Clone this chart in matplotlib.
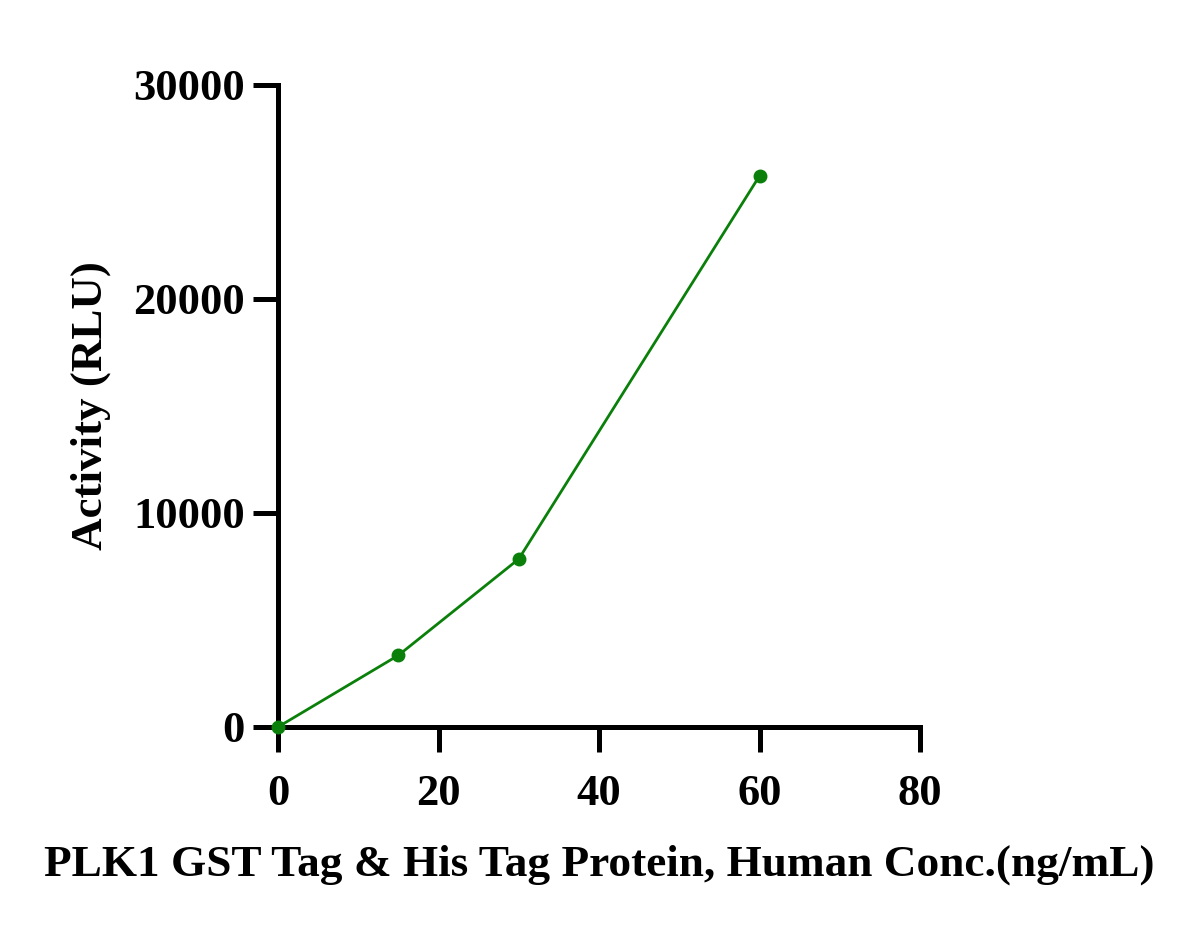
import matplotlib
matplotlib.use("Agg")
import matplotlib.pyplot as plt

conc = [0, 15, 30, 60]
activity = [0, 3350, 7850, 25750]
xticks = [0, 20, 40, 60, 80]
yticks = [0, 10000, 20000, 30000]

plt.rcParams['font.family'] = ['Liberation Serif', 'DejaVu Serif']
plt.rcParams['font.weight'] = 'bold'

fig = plt.figure(figsize=(12, 9.31), dpi=100)
ax = fig.add_axes([278/1200, 1-727/931, (920-278)/1200, (727-85)/931])
color = '#0a800a'
ax.plot(conc, activity, color=color, lw=2.0, marker='o', ms=9, clip_on=False, zorder=5)
ax.set_xlim(0, 80)
ax.set_ylim(0, 30000)
ax.set_xticks(xticks)
ax.set_yticks(yticks)
for s in ['top', 'right']:
    ax.spines[s].set_visible(False)
for s in ['left', 'bottom']:
    ax.spines[s].set_linewidth(3.6)
ax.tick_params(axis='both', width=3.6, length=18, labelsize=32)
ax.tick_params(axis='x', pad=16)
ax.tick_params(axis='y', pad=6)
for lab in ax.get_xticklabels() + ax.get_yticklabels():
    lab.set_fontweight('bold')
ax.set_xlabel('PLK1 GST Tag & His Tag Protein, Human Conc.(ng/mL)', fontsize=32.6, fontweight='bold', labelpad=22)
ax.set_ylabel('Activity (RLU)', fontsize=32.4, fontweight='bold', labelpad=16)
fig.savefig('out.png', dpi=100)
